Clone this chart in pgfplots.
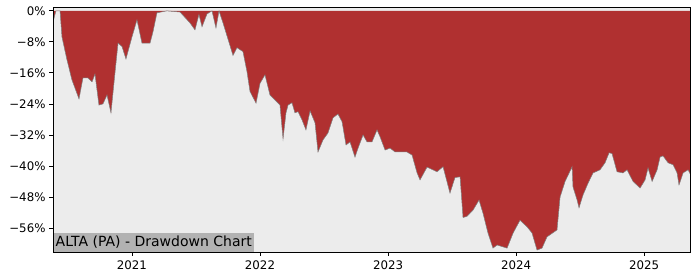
\documentclass[border=0pt]{standalone}
\usepackage{pgfplots}
\usepackage{pgfplotstable}
\pgfplotsset{compat=1.18}
\usepackage{fontspec}
\setmainfont{DejaVu Sans}
\definecolor{ddred}{RGB}{176,48,48}
\definecolor{bggray}{RGB}{236,236,236}
\definecolor{lblgray}{RGB}{178,178,178}
\pgfplotstableread{
x y
2020.383 -3.0
2020.398 -1.0
2020.406 0
2020.438 0
2020.453 -6.7
2020.492 -12.6
2020.531 -17.8
2020.586 -22.7
2020.617 -17.3
2020.656 -17.3
2020.688 -18.3
2020.711 -16.3
2020.742 -24.3
2020.773 -24.0
2020.805 -21.7
2020.836 -26.3
2020.867 -16.0
2020.891 -8.3
2020.922 -9.2
2020.953 -12.4
2021.000 -6.7
2021.039 -2.3
2021.078 -8.3
2021.141 -8.3
2021.164 -5.4
2021.195 -0.5
2021.273 0
2021.375 -0.3
2021.453 -3.1
2021.492 -4.9
2021.523 -0.9
2021.547 -4.1
2021.586 -0.8
2021.625 0
2021.656 -4.4
2021.680 0
2021.711 -3.1
2021.766 -9.0
2021.789 -11.5
2021.820 -9.5
2021.867 -10.5
2021.898 -15.6
2021.922 -20.8
2021.969 -23.8
2022.000 -18.7
2022.039 -16.5
2022.078 -21.7
2022.117 -23.0
2022.156 -24.3
2022.180 -33.0
2022.203 -26.3
2022.219 -24.3
2022.250 -23.7
2022.273 -26.3
2022.297 -26.0
2022.328 -28.1
2022.359 -30.7
2022.391 -25.8
2022.414 -27.6
2022.430 -28.9
2022.453 -36.4
2022.492 -33.3
2022.531 -31.5
2022.570 -27.6
2022.609 -26.6
2022.641 -28.6
2022.672 -34.6
2022.703 -33.8
2022.742 -37.7
2022.766 -35.4
2022.805 -32.0
2022.836 -33.8
2022.875 -33.8
2022.914 -30.7
2022.938 -32.5
2022.977 -35.9
2023.016 -35.4
2023.055 -36.4
2023.148 -36.4
2023.188 -37.2
2023.227 -41.8
2023.250 -43.6
2023.305 -40.3
2023.383 -41.5
2023.430 -40.2
2023.484 -47.0
2023.523 -43.0
2023.563 -42.8
2023.586 -53.3
2023.617 -53.0
2023.664 -51.4
2023.711 -48.8
2023.742 -52.2
2023.781 -57.3
2023.820 -61.2
2023.852 -60.4
2023.930 -61.2
2023.977 -57.3
2024.031 -54.0
2024.086 -55.7
2024.125 -57.3
2024.164 -61.7
2024.203 -61.2
2024.242 -58.3
2024.320 -56.5
2024.344 -48.0
2024.383 -44.0
2024.438 -40.2
2024.445 -45.4
2024.477 -48.8
2024.492 -50.8
2024.523 -47.5
2024.563 -44.4
2024.602 -41.8
2024.656 -41.0
2024.695 -39.2
2024.727 -36.6
2024.750 -36.8
2024.789 -41.5
2024.836 -41.8
2024.867 -41.0
2024.914 -44.0
2024.969 -45.7
2025.008 -43.6
2025.031 -40.5
2025.063 -44.0
2025.102 -41.0
2025.125 -37.7
2025.148 -37.4
2025.188 -39.2
2025.227 -39.7
2025.258 -41.8
2025.273 -44.9
2025.305 -41.8
2025.344 -41.0
2025.359 -42.0
}\ddtable
\begin{document}
\begin{tikzpicture}[x=1pt,y=1pt]
\useasboundingbox (0,0) rectangle (700,280);
\begin{axis}[
  at={(53pt,28pt)}, anchor=south west,
  scale only axis, width=637pt, height=245pt,
  xmin=2020.383, xmax=2025.359, ymin=-62.2, ymax=1.0,
  axis background/.style={fill=bggray},
  axis line style={black, line width=0.9pt},
  tick align=outside, major tick length=4pt,
  tick style={black, line width=0.8pt},
  xtick={2021,2022,2023,2024,2025},
  xticklabels={2021,2022,2023,2024,2025},
  ytick={0,-8,-16,-24,-32,-40,-48,-56},
  yticklabels={0\%,−8\%,−16\%,−24\%,−32\%,−40\%,−48\%,−56\%},
  ticklabel style={font=\fontsize{11.8}{13}\selectfont},
  xticklabel style={yshift=-1pt},
  xtick pos=bottom, ytick pos=left,
  clip=true,
  axis on top,
]
\addplot[fill=ddred, draw=none] table[x=x,y=y] {\ddtable} \closedcycle;
\addplot[gray, line width=0.5pt] table[x=x,y=y] {\ddtable};
\node[anchor=south west, fill=lblgray, inner xsep=2.5pt, inner ysep=3pt, font=\fontsize{14}{15}\selectfont]
  at (rel axis cs:0,0) {ALTA (PA) - Drawdown Chart};
\end{axis}
\end{tikzpicture}
\end{document}
